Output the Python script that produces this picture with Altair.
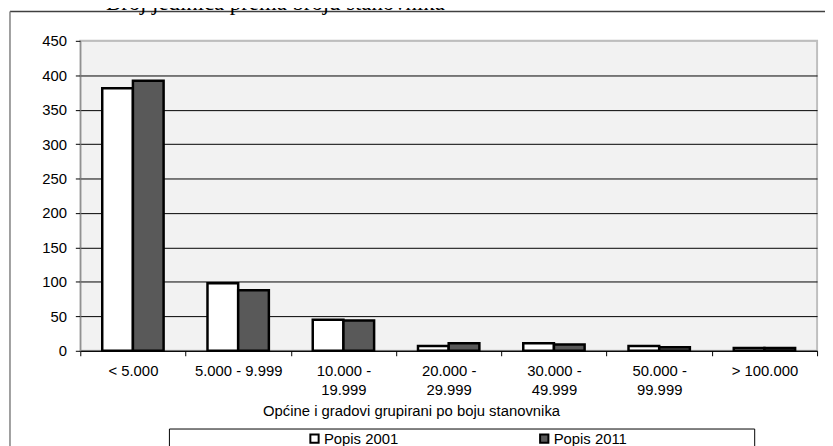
import altair as alt
import pandas as pd

categories = ["< 5.000", "5.000 - 9.999", "10.000 - 19.999", "20.000 - 29.999",
              "30.000 - 49.999", "50.000 - 99.999", "> 100.000"]
series_names = ["Popis 2001", "Popis 2011"]
popis_2001 = [381, 98, 45, 7, 11, 7, 4]
popis_2011 = [392, 88, 44, 11, 9, 5, 4]
y_ticks = [0, 50, 100, 150, 200, 250, 300, 350, 400, 450]
chart_title = "Broj jedinica prema broju stanovnika"
x_title = "Općine i gradovi grupirani po boju stanovnika"

rows = []
for c, a, b in zip(categories, popis_2001, popis_2011):
    rows.append({"kategorija": c, "serija": series_names[0], "broj": a})
    rows.append({"kategorija": c, "serija": series_names[1], "broj": b})
df = pd.DataFrame(rows)

FONT = "Liberation Sans"
FS = 15

bars = alt.Chart(df).mark_bar(stroke="black", strokeWidth=2.5).encode(
    x=alt.X("kategorija:N", sort=categories,
            scale=alt.Scale(paddingInner=0, paddingOuter=0),
            axis=alt.Axis(title=x_title, labelAngle=0, tickBand="extent",
                          tickSize=5, tickColor="black", domainColor="black",
                          labelPadding=8, labelFontSize=FS, labelFont=FONT,
                          labelColor="black", labelLineHeight=19,
                          labelExpr="length(datum.label) > 13 ? [slice(datum.label, 0, indexof(datum.label, ' - ') + 2), slice(datum.label, indexof(datum.label, ' - ') + 3)] : datum.label",
                          titleFont=FONT, titleFontSize=FS, titleFontWeight="normal",
                          titleColor="black", titleX=334, titleY=65,
                          titleAlign="center", titleBaseline="alphabetic",
                          grid=False)),
    xOffset=alt.XOffset("serija:N", sort=series_names,
                        scale=alt.Scale(paddingOuter=0.715, paddingInner=0)),
    y=alt.Y("broj:Q", scale=alt.Scale(domain=[0, 450], nice=False),
            axis=alt.Axis(title=None, values=y_ticks, tickSize=5, tickColor="black",
                          domainColor="#808080", labelPadding=9, labelFontSize=FS,
                          labelFont=FONT, labelColor="black",
                          grid=True,
                          gridColor={"condition": {"test": "datum.value == 450", "value": "#bfbfbf"}, "value": "black"},
                          gridWidth=1)),
    color=alt.Color("serija:N", sort=series_names,
                    scale=alt.Scale(domain=series_names, range=["#ffffff", "#595959"]),
                    legend=alt.Legend(title=None, orient="none", legendX=229, legendY=394,
                                      direction="horizontal", columnPadding=138,
                                      symbolType="square", symbolSize=70,
                                      symbolStrokeColor="black", symbolStrokeWidth=2,
                                      labelFont=FONT, labelFontSize=FS, labelColor="black",
                                      labelOffset=2, padding=0)),
)

one = pd.DataFrame({"label": [chart_title]})

legend_box = alt.Chart(one).mark_rect(fill="transparent", stroke="black", strokeWidth=1).encode(
    x=alt.value(90), x2=alt.value(681), y=alt.value(392), y2=alt.value(430)
)
top_line = alt.Chart(one).mark_rule(color="#404040", strokeWidth=1.5).encode(
    x=alt.value(-71), x2=alt.value(760), y=alt.value(-29.5)
)
left_line = alt.Chart(one).mark_rule(color="#808080", strokeWidth=1.5).encode(
    x=alt.value(-71), y=alt.value(-29.5), y2=alt.value(430)
)
title_text = alt.Chart(one).mark_text(font="Liberation Serif", fontSize=23,
                                      align="center", baseline="alphabetic",
                                      color="black").encode(
    x=alt.value(197), y=alt.value(-31), text="label:N"
)

chart = alt.layer(bars, legend_box, top_line, left_line, title_text).properties(
    width=744, height=313,
    autosize=alt.AutoSizeParams(type="none"),
    padding={"left": 73, "top": 31, "right": 8, "bottom": 94},
    background="white",
).configure_view(fill="#f2f2f2", stroke="#bfbfbf", strokeWidth=2)

chart.save("out.html", embed_options={"renderer": "svg", "actions": False})
